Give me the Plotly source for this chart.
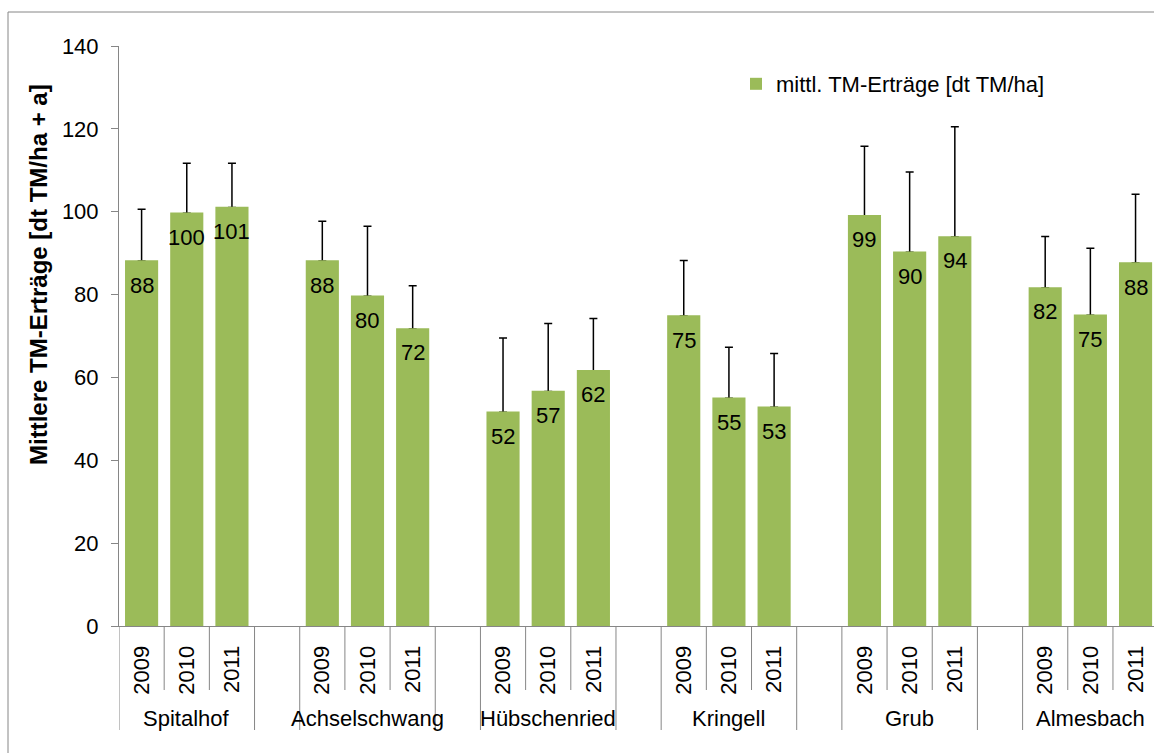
import plotly.graph_objects as go

# data
sites = ["Spitalhof", "Achselschwang", "Hübschenried", "Kringell", "Grub", "Almesbach"]
years = ["2009", "2010", "2011"]
yields = [88.1, 99.6, 101.0,
          88.1, 79.6, 71.7,
          51.6, 56.6, 61.6,
          74.8, 55.0, 52.8,
          99.0, 90.2, 93.9,
          81.6, 75.0, 87.6]
err_up = [12.5, 12.1, 10.7,
          9.6, 16.9, 10.4,
          17.9, 16.4, 12.6,
          13.4, 12.3, 13.0,
          16.8, 19.4, 26.6,
          12.4, 16.2, 16.6]

GREEN = "#9BBB59"
AXIS = "#868686"
FONT = "Liberation Sans, Arial, sans-serif"

# each site takes 3 slots, one empty slot between sites
slot = 4
xpos, xlab = [], []
for i, s in enumerate(sites):
    for j, yr in enumerate(years):
        xpos.append(i * slot + j)
        xlab.append(yr)
n_slots = len(sites) * slot - 1

W, H = 1154, 753
L, R, T, B = 119, 0, 46, 127
plot_w = W - L - R
plot_h = H - T - B
slot_px = 45.18
x_hi = -0.5 + plot_w / slot_px

fig = go.Figure()
fig.add_trace(go.Bar(
    x=xpos, y=yields, name="mittl. TM-Erträge [dt TM/ha]",
    marker=dict(color=GREEN, line=dict(width=0)),
    error_y=dict(type="data", symmetric=False, array=err_up,
                 arrayminus=[0] * len(err_up), color="black",
                 thickness=1.5, width=4),
    hoverinfo="skip",
))
# same bars again on top so the error bar foot is hidden
fig.add_trace(go.Bar(
    x=xpos, y=yields, showlegend=False,
    marker=dict(color=GREEN, line=dict(color=GREEN, width=1.5)),
    hoverinfo="skip",
))

annotations = []
for x, v in zip(xpos, yields):
    annotations.append(dict(x=x, y=v, xref="x", yref="y", text=f"{v:.0f}",
                            showarrow=False, yshift=-24,
                            font=dict(size=22, color="black", family=FONT)))
for i, s in enumerate(sites):
    annotations.append(dict(x=i * slot + 1, y=-92 / plot_h, xref="x", yref="paper",
                            text=s, showarrow=False, yanchor="middle",
                            font=dict(size=22, color="black", family=FONT)))
annotations.append(dict(x=(38 - L) / plot_w, y=(H - B - 275) / plot_h,
                        xref="paper", yref="paper", xanchor="center", yanchor="middle",
                        text="<b>Mittlere TM-Erträge [dt TM/ha + a]</b>",
                        textangle=-90, showarrow=False,
                        font=dict(size=24, color="black", family=FONT)))

# category separator lines below the axis
shapes = []
for k in range(n_slots + 1):
    edge = k - 0.5
    long_line = k % slot in (0, 3)
    y_end = -(104 if long_line else 64) / plot_h
    shapes.append(dict(type="line", xref="x", yref="paper", x0=edge, x1=edge,
                       y0=0, y1=y_end, line=dict(color=AXIS, width=1)))
# chart area border
shapes.append(dict(type="rect", xref="paper", yref="paper",
                   x0=(8 - L) / plot_w, x1=1.05,
                   y0=-0.3, y1=(H - B - 12) / plot_h,
                   line=dict(color=AXIS, width=1)))

fig.update_layout(
    width=W, height=H,
    margin=dict(l=L, r=R, t=T, b=B),
    paper_bgcolor="white", plot_bgcolor="white",
    barmode="overlay", bargap=0.3,
    font=dict(family=FONT, size=22, color="black"),
    showlegend=True,
    legend=dict(x=(736 - L) / plot_w, y=(H - B - 84) / plot_h,
                xanchor="left", yanchor="middle",
                font=dict(size=22, family=FONT), bgcolor="rgba(0,0,0,0)"),
    xaxis=dict(range=[-0.5, x_hi], tickmode="array", tickvals=xpos, ticktext=xlab,
               tickangle=-90, ticks="", showgrid=False, zeroline=False,
               showline=True, linecolor=AXIS, linewidth=1,
               ticklabelstandoff=10, tickfont=dict(size=22)),
    yaxis=dict(range=[0, 140], dtick=20, ticks="outside", ticklen=7,
               tickcolor=AXIS, showgrid=False, zeroline=False,
               showline=True, linecolor=AXIS, linewidth=1,
               ticklabelstandoff=8, tickfont=dict(size=22)),
    annotations=annotations,
    shapes=shapes,
)

# drop the default body margin so the figure fills the window exactly
fig.write_html("out.html", config={"displayModeBar": False},
               post_script="document.body.style.margin='0';")
